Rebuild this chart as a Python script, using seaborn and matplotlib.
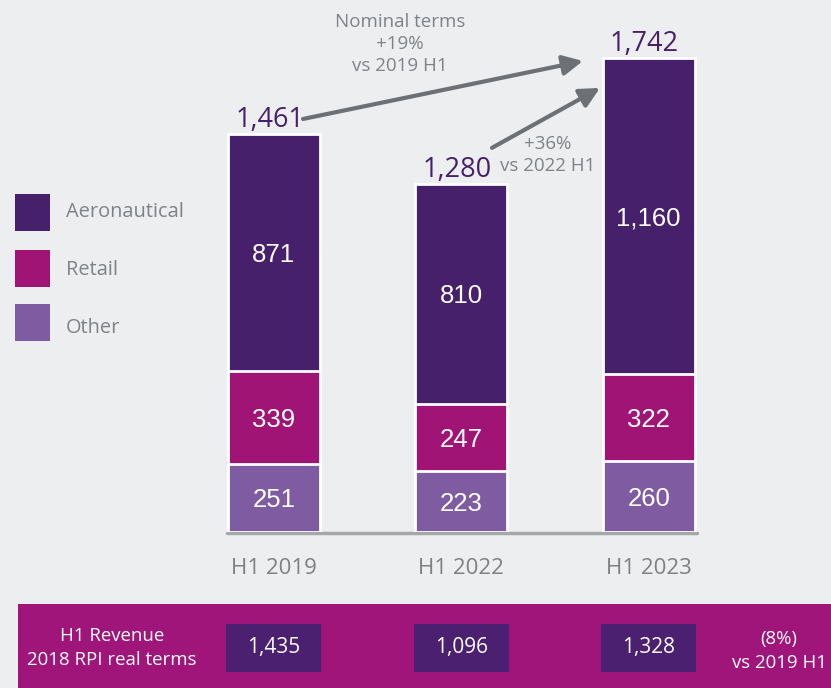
import matplotlib
matplotlib.use("Agg")
import matplotlib.pyplot as plt
import seaborn as sns
from matplotlib.patches import Rectangle
from matplotlib.transforms import blended_transform_factory

# ---- data ----
categories = ["H1 2019", "H1 2022", "H1 2023"]
aeronautical = [871, 810, 1160]
retail = [339, 247, 322]
other = [251, 223, 260]
totals = [1461, 1280, 1742]
real_terms = [1435, 1096, 1328]
series_names = ["Aeronautical", "Retail", "Other"]

# ---- style ----
BG = "#EDEEF0"
C_AERO = "#46206B"
C_RETAIL = "#A01476"
C_OTHER = "#7F5BA1"
GREY_TXT = "#7E8388"
ARROW_C = "#6C7176"
BANNER = "#A0157A"
BOX = "#4B2070"

sns.set_theme(style="white")
plt.rcParams["font.family"] = ["Open Sans", "DejaVu Sans"]

W, H = 831, 688
fig = plt.figure(figsize=(W / 100, H / 100), dpi=100)
fig.patch.set_facecolor(BG)

# axes mapped to pixel layout: x from 180px to 742.5px, y baseline at 532px
ax = fig.add_axes([180 / W, (H - 532) / H, 562.5 / W, 532 / H])
ax.set_facecolor("none")

bar_w = 0.49
cum_retail = [r + o for r, o in zip(retail, other)]
cum_total = [a + r + o for a, r, o in zip(aeronautical, retail, other)]

sns.barplot(x=categories, y=cum_total, color=C_AERO, width=bar_w, saturation=1,
            edgecolor="white", linewidth=2, ax=ax, zorder=3)
sns.barplot(x=categories, y=cum_retail, color=C_RETAIL, width=bar_w, saturation=1,
            edgecolor="white", linewidth=2, ax=ax, zorder=4)
sns.barplot(x=categories, y=other, color=C_OTHER, width=bar_w, saturation=1,
            edgecolor="white", linewidth=2, ax=ax, zorder=5)

ax.set_xlim(-0.5, 2.5)
ax.set_ylim(0, 1954)
for s in ax.spines.values():
    s.set_visible(False)
ax.set_yticks([])
ax.set_ylabel("")
ax.axhline(-4, xmin=(227 - 180) / 562.5, xmax=(697 - 180) / 562.5,
           color="#A5A7AA", lw=2.5, zorder=2, clip_on=False)
ax.tick_params(axis="x", length=0, pad=19, labelsize=16, labelcolor="#808080")
ax.set_xticks(range(len(categories)))
ax.set_xticklabels(categories)

# segment labels
for i in range(len(categories)):
    segs = [(0, other[i]), (other[i], retail[i]), (other[i] + retail[i], aeronautical[i])]
    for base, val in segs:
        ax.text(i, base + val / 2, f"{val:,}", ha="center", va="center_baseline",
                color="white", fontsize=18.5, family=["Liberation Sans", "DejaVu Sans"],
                zorder=6)
    ax.annotate(f"{totals[i]:,}", xy=(i, totals[i]), xytext=(-3, 0),
                textcoords="offset points", ha="center", va="bottom",
                color=C_AERO, fontsize=19.5, zorder=6)

# arrows
arrow_kw = dict(arrowstyle="-|>,head_length=0.8,head_width=0.4", color=ARROW_C,
                lw=3, shrinkA=0, shrinkB=0, mutation_scale=15)
ax.annotate("", xy=(2 - 0.351, totals[2] - 12), xytext=(0.156, totals[0] + 56),
            arrowprops=arrow_kw, zorder=7)
ax.annotate("", xy=(2 - 0.26, totals[2] - 111), xytext=(1.164, totals[1] + 131),
            arrowprops=arrow_kw, zorder=7)

def ftxt(x, y, s, **kw):
    fig.text(x / W, 1 - y / H, s, **kw)

ftxt(400, 44, "Nominal terms\n+19%\nvs 2019 H1", ha="center", va="center",
     color=GREY_TXT, fontsize=13.5, linespacing=1.32)
ftxt(548, 155, "+36%\nvs 2022 H1", ha="center", va="center",
     color=GREY_TXT, fontsize=13.5, linespacing=1.32)

# legend
leg_colors = [C_AERO, C_RETAIL, C_OTHER]
leg_box_y = [194, 250, 304]
leg_txt_y = [212, 270, 328]
for name, col, y0, ty in zip(series_names, leg_colors, leg_box_y, leg_txt_y):
    fig.add_artist(Rectangle((14.5 / W, 1 - (y0 + 37) / H), 35 / W, 37 / H,
                             transform=fig.transFigure, facecolor=col,
                             edgecolor="none"))
    ftxt(66, ty, name, ha="left", va="center", color=GREY_TXT, fontsize=14.4)

# bottom banner
fig.add_artist(Rectangle((18 / W, 0), (W - 18) / W, (H - 604) / H,
                         transform=fig.transFigure, facecolor=BANNER,
                         edgecolor="none"))
ftxt(112, 648, "H1 Revenue\n2018 RPI real terms", ha="center", va="center",
     color="white", fontsize=13.4, linespacing=1.4)
ftxt(779, 651, "(8%)\nvs 2019 H1", ha="center", va="center",
     color="white", fontsize=13.4, linespacing=1.4)

bt = blended_transform_factory(ax.transData, fig.transFigure)
box_w = 0.505
for i, v in enumerate(real_terms):
    fig.add_artist(Rectangle((i - box_w / 2, 1 - 672 / H), box_w, 48 / H,
                             transform=bt, facecolor=BOX, edgecolor="none"))
    fig.text(i, 1 - 648 / H, f"{v:,}", transform=bt, ha="center", va="center",
             color="white", fontsize=15)

fig.savefig("out.png", dpi=100, facecolor=BG)
